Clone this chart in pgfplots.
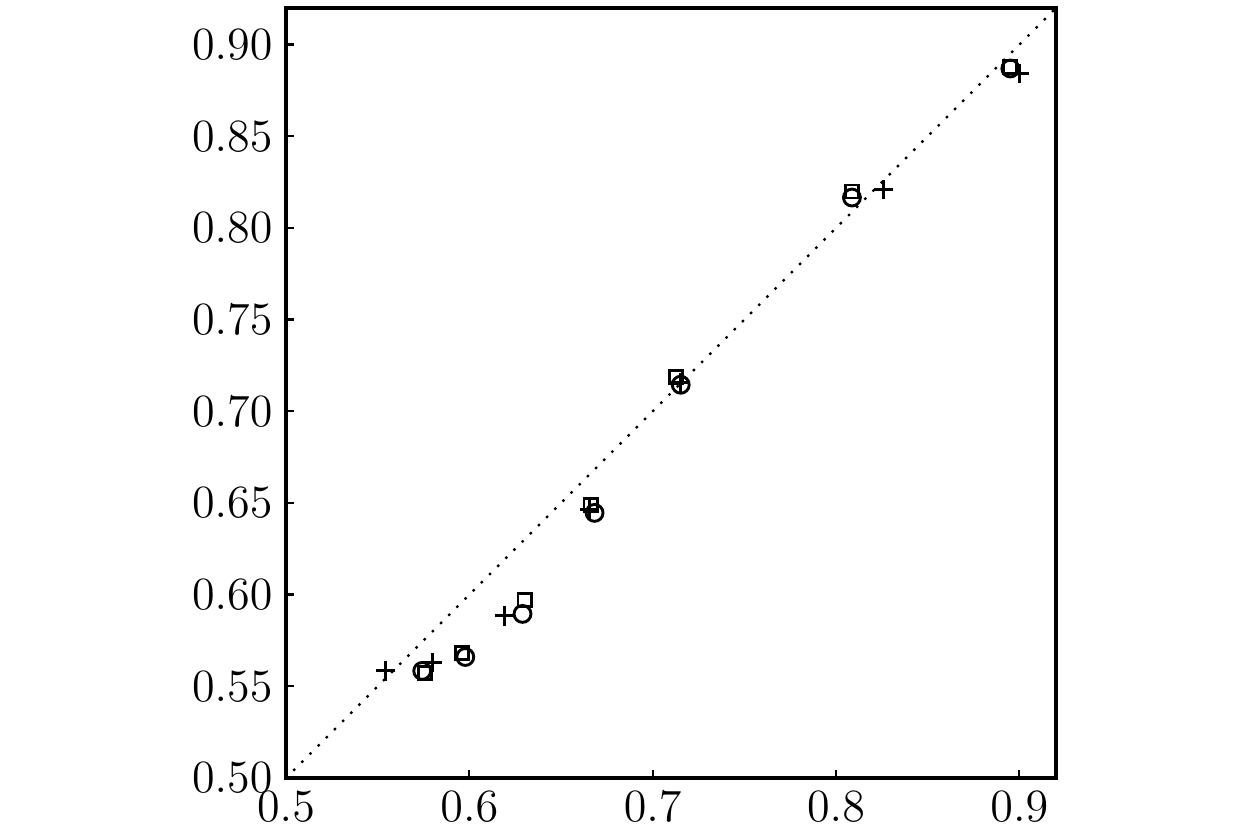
\documentclass[border=0pt]{standalone}
\usepackage{pgfplots}
\pgfplotsset{compat=1.18}
\begin{document}
\begin{tikzpicture}
\begin{axis}[
  scale only axis,
  width=200.2pt, height=200.2pt,
  xmin=0.5, xmax=0.92, ymin=0.5, ymax=0.92,
  xtick={0.5,0.6,0.7,0.8,0.9},
  ytick={0.50,0.55,0.60,0.65,0.70,0.75,0.80,0.85,0.90},
  xticklabel style={/pgf/number format/.cd,fixed,fixed zerofill,precision=1},
  yticklabel style={/pgf/number format/.cd,fixed,fixed zerofill,precision=2},
  tick label style={font=\fontsize{12}{14}\selectfont},
  tick pos=left,
  tick align=inside,
  major tick length=2pt,
  axis line style={line width=0.8pt},
  every tick/.style={line width=0.6pt, black},
  clip=false,
]
\addplot[black, line width=0.9pt, line cap=round, dash pattern=on 0pt off 3pt] coordinates {(0.5,0.5) (0.92,0.92)};
\addplot[only marks, mark=+, mark size=2.5pt, mark options={line width=0.75pt}] coordinates {
(0.5541,0.5584) (0.5798,0.5628) (0.6191,0.5884) (0.6656,0.6463) (0.7153,0.7156) (0.8257,0.8210) (0.9000,0.8843)};
\addplot[only marks, mark=o, mark size=2.2pt, mark options={line width=0.75pt}] coordinates {
(0.5743,0.5584) (0.5978,0.5660) (0.6290,0.5895) (0.6683,0.6446) (0.7153,0.7145) (0.8087,0.8166) (0.8951,0.8870)};
\addplot[only marks, mark=square, mark size=1.7pt, mark options={line width=0.75pt}] coordinates {
(0.5760,0.5573) (0.5962,0.5682) (0.6301,0.5972) (0.6661,0.6490) (0.7126,0.7189) (0.8087,0.8199) (0.8951,0.8876)};
\end{axis}
\pgfresetboundingbox
\path (current axis.south west) ++(-74.36pt,-14.82pt) coordinate (bbA);
\path (current axis.north east) ++(53.04pt,2.08pt) coordinate (bbB);
\path (bbA) rectangle (bbB);
\end{tikzpicture}
\end{document}
